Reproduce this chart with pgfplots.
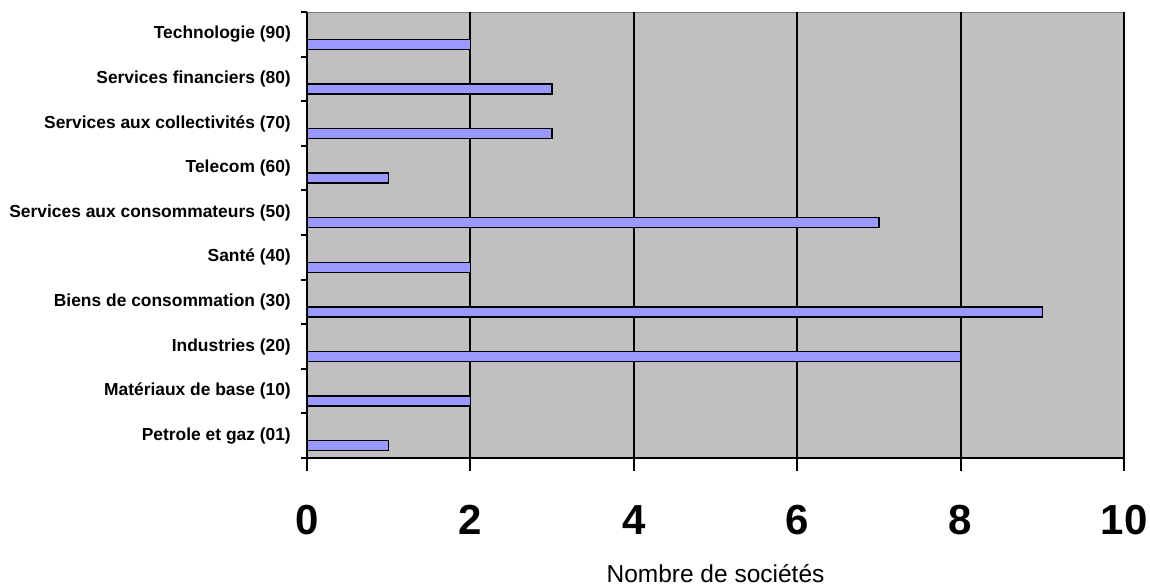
\documentclass[border=0pt]{standalone}
\usepackage{pgfplots}
\pgfplotsset{compat=1.18}
\usepackage{fontspec}
\setmainfont{Liberation Sans}
\definecolor{plotgray}{HTML}{C0C0C0}
\definecolor{barblue}{HTML}{9999FF}
\begin{document}
\begin{tikzpicture}
\useasboundingbox (-307pt,-129pt) rectangle (843pt,458pt);
\begin{axis}[
    at={(0pt,0pt)}, anchor=south west,
    scale only axis,
    width=817pt, height=446pt,
    xbar,
    bar width=10pt,
    bar shift=-10pt,
    xmin=0, xmax=10,
    ymin=-0.5, ymax=9.5,
    axis x line*=bottom,
    axis y line*=left,
    axis line style={black, line width=2pt},
    axis background/.style={fill=plotgray, draw=gray, line width=1pt},
    xtick={0,2,4,6,8,10},
    xticklabels={0,2,4,6,8,10},
    ytick={0,...,9},
    yticklabels={Petrole et gaz (01),Matériaux de base (10),Industries (20),Biens de consommation (30),Santé (40),Services aux consommateurs (50),Telecom (60),Services aux collectivités (70),Services financiers (80),Technologie (90)},
    minor ytick={-0.5,0.5,...,9.5},
    tick align=outside,
    major tick length=13pt,
    minor tick length=6pt,
    tick style={black, line width=2pt},
    major y tick style={draw=none},
    xmajorgrids,
    major x grid style={black, line width=2pt},
    xticklabel style={font=\bfseries\fontsize{42}{42}\selectfont, inner sep=0pt, anchor=north, yshift=-34pt},
    yticklabel style={font=\bfseries\fontsize{17.4}{20}\selectfont, inner sep=0pt, anchor=east, xshift=-3pt},
    xlabel={Nombre de sociétés},
    xlabel style={font=\fontsize{24.5}{28}\selectfont, inner sep=0pt, at={(axis description cs:0.5,0)}, anchor=base, yshift=-124pt},
]
\addplot[fill=barblue, draw=black, line width=1.5pt] coordinates {
    (1,0) (2,1) (8,2) (9,3) (2,4) (7,5) (1,6) (3,7) (3,8) (2,9)
};
\end{axis}
\end{tikzpicture}
\end{document}
